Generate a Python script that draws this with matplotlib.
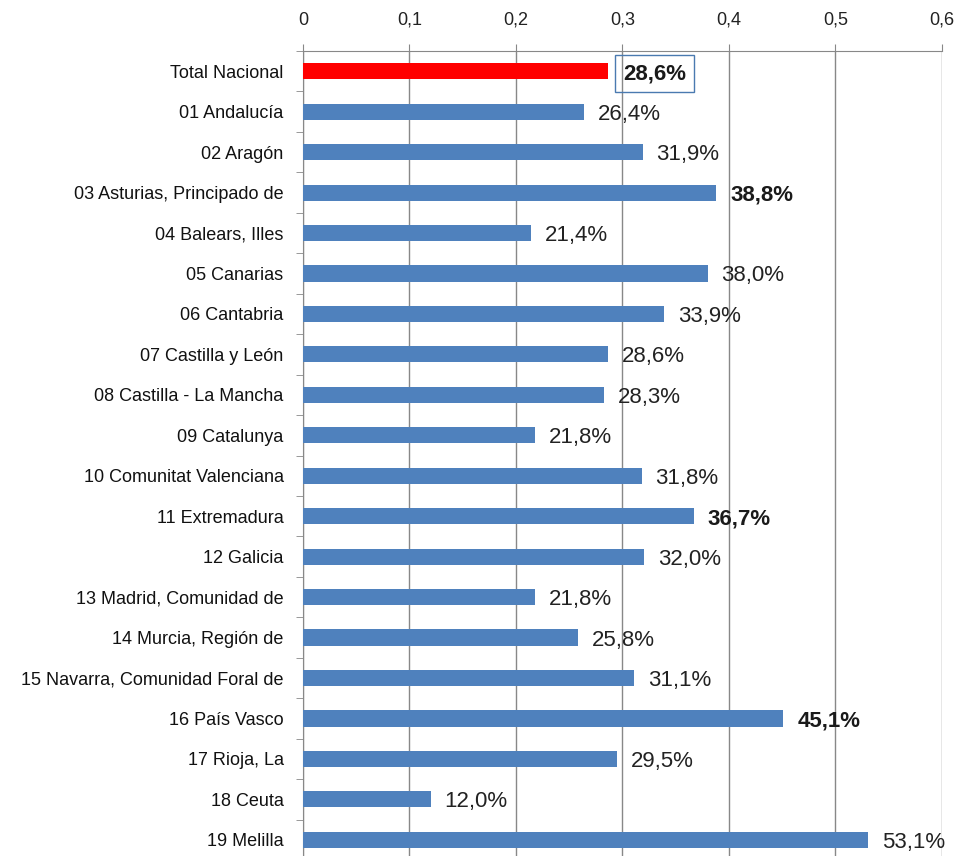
import numpy as np
import matplotlib.pyplot as plt
from matplotlib.ticker import FixedLocator

plt.rcParams['font.family'] = ['Liberation Sans Narrow', 'Liberation Sans', 'DejaVu Sans']

regions = ['Total Nacional', '01 Andalucía', '02 Aragón', '03 Asturias, Principado de',
           '04 Balears, Illes', '05 Canarias', '06 Cantabria', '07 Castilla y León',
           '08 Castilla - La Mancha', '09 Catalunya', '10 Comunitat Valenciana',
           '11 Extremadura', '12 Galicia', '13 Madrid, Comunidad de', '14 Murcia, Región de',
           '15 Navarra, Comunidad Foral de', '16 País Vasco', '17 Rioja, La', '18 Ceuta',
           '19 Melilla']
values = [0.286, 0.264, 0.319, 0.388, 0.214, 0.380, 0.339, 0.286, 0.283, 0.218,
          0.318, 0.367, 0.320, 0.218, 0.258, 0.311, 0.451, 0.295, 0.120, 0.531]
bold = ['Total Nacional', '03 Asturias, Principado de', '11 Extremadura', '16 País Vasco']
xticks = [0, 0.1, 0.2, 0.3, 0.4, 0.5, 0.6]
xticklabels = ['0', '0,1', '0,2', '0,3', '0,4', '0,5', '0,6']

fig = plt.figure(figsize=(9.57, 8.56), dpi=100)
ax = fig.add_axes([0.3166, -0.0047, 0.6677, 0.9451])

y = np.arange(len(regions))
colors = ['#ff0000' if r == 'Total Nacional' else '#4f81bd' for r in regions]
ax.barh(y, values, height=0.4, color=colors, zorder=3)

for yi, v, r in zip(y, values, regions):
    txt = ('%.1f%%' % (v * 100)).replace('.', ',')
    if r == 'Total Nacional':
        ax.text(v + 0.0145, yi, txt, va='center_baseline', ha='left', fontsize=16,
                fontweight='bold', color='#1a1a1a', zorder=4,
                bbox=dict(boxstyle='square,pad=0.35', fc='none', ec='#4a7ab0', lw=1))
    elif r in bold:
        ax.text(v + 0.013, yi, txt, va='center_baseline', ha='left', fontsize=16,
                fontweight='bold', color='#1a1a1a', zorder=4)
    else:
        ax.text(v + 0.013, yi, txt, va='center_baseline', ha='left', fontsize=16,
                color='#222222', zorder=4)

ax.set_xlim(0, 0.6)
ax.set_ylim(len(regions) - 0.5, -0.5)
ax.xaxis.tick_top()
ax.set_xticks(xticks)
ax.set_xticklabels(xticklabels, fontsize=13, color='#222222', va='baseline')
ax.tick_params(axis='x', length=5, color='#888888', pad=14)

ax.set_yticks(y)
ax.set_yticklabels(regions, fontsize=13, color='#111111')
ax.tick_params(axis='y', which='major', length=0, pad=14)
ax.yaxis.set_minor_locator(FixedLocator(np.arange(-0.5, len(regions), 1.0)))
ax.tick_params(axis='y', which='minor', length=5, color='#888888')

ax.grid(axis='x', color='#888888', lw=1, zorder=0)
for s in ['right', 'bottom']:
    ax.spines[s].set_visible(False)
for s in ['top', 'left']:
    ax.spines[s].set_color('#888888')

fig.savefig('out.png', dpi=100)
